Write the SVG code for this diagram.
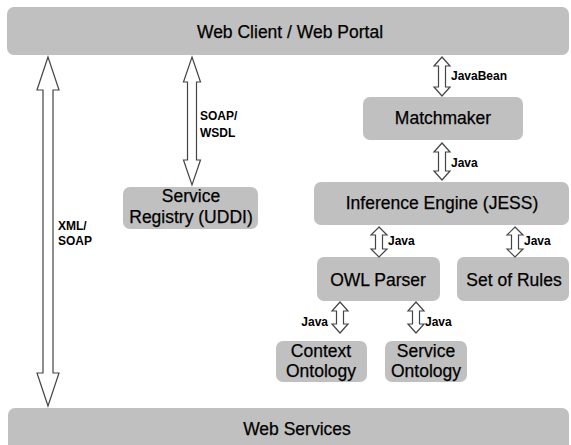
<svg xmlns="http://www.w3.org/2000/svg" width="571" height="445" viewBox="0 0 571 445">
<style>
.box{fill:#c0c0c0;}
.t{font-family:"Liberation Sans",Arial,sans-serif;font-size:17.5px;fill:#000;stroke:#000;stroke-width:0.25;text-anchor:middle;}
.lbl{font-family:"Liberation Sans",Arial,sans-serif;font-size:12px;font-weight:bold;fill:#000;}
.arr{fill:#fff;stroke:#444;stroke-width:1.2;stroke-linejoin:miter;}
</style>
<rect width="571" height="445" fill="#fff"/>
<g id="web-client"><rect class="box" x="7" y="7" width="562" height="48" rx="7"/><text class="t" x="290" y="38">Web Client / Web Portal</text></g>
<g id="web-services"><rect class="box" x="8" y="408" width="561" height="50" rx="7"/><text class="t" x="297" y="435">Web Services</text></g>
<g id="matchmaker"><rect class="box" x="363" y="97" width="160" height="43" rx="7"/><text class="t" x="443" y="124">Matchmaker</text></g>
<g id="inference-engine"><rect class="box" x="314" y="182" width="255" height="43" rx="7"/><text class="t" x="442" y="209">Inference Engine (JESS)</text></g>
<g id="owl-parser"><rect class="box" x="317" y="257" width="123" height="44" rx="7"/><text class="t" x="378" y="286">OWL Parser</text></g>
<g id="set-of-rules"><rect class="box" x="457" y="257" width="112" height="44" rx="7"/><text class="t" x="514" y="286">Set of Rules</text></g>
<g id="context-ontology"><rect class="box" x="276" y="341" width="91" height="41" rx="7"/><text class="t" x="321" y="357">Context</text><text class="t" x="321" y="377">Ontology</text></g>
<g id="service-ontology"><rect class="box" x="385" y="341" width="82" height="41" rx="7"/><text class="t" x="426" y="357">Service</text><text class="t" x="426" y="377">Ontology</text></g>
<g id="service-registry"><rect class="box" x="123" y="187" width="135" height="42" rx="7"/><text class="t" x="191" y="202">Service</text><text class="t" x="191" y="222.5">Registry (UDDI)</text></g>
<g id="connectors">
<path class="arr" d="M48,57 L59,90 L53,90 L53,373 L59,373 L48,406 L37,373 L43,373 L43,90 L37,90 Z"/>
<text class="lbl" x="58" y="230">XML/</text><text class="lbl" x="58" y="245">SOAP</text>
<path class="arr" d="M192,57 L200.5,82 L196.5,82 L196.5,160 L200.5,160 L192,185 L183.5,160 L187.5,160 L187.5,82 L183.5,82 Z"/>
<text class="lbl" x="200" y="120">SOAP/</text><text class="lbl" x="200" y="137">WSDL</text>
<path class="arr" d="M442,57 L450,66 L445.5,66 L445.5,87 L450,87 L442,96 L434,87 L438.5,87 L438.5,66 L434,66 Z"/>
<text class="lbl" x="451" y="80">JavaBean</text>
<path class="arr" d="M442,143 L450,152 L445.5,152 L445.5,171 L450,171 L442,180 L434,171 L438.5,171 L438.5,152 L434,152 Z"/>
<text class="lbl" x="451" y="167">Java</text>
<path class="arr" d="M379,227 L387,235 L382.5,235 L382.5,249 L387,249 L379,257 L371,249 L375.5,249 L375.5,235 L371,235 Z"/>
<text class="lbl" x="388" y="245">Java</text>
<path class="arr" d="M515,227 L523,235 L518.5,235 L518.5,249 L523,249 L515,257 L507,249 L511.5,249 L511.5,235 L507,235 Z"/>
<text class="lbl" x="524" y="245">Java</text>
<path class="arr" d="M340,302 L348,311 L343.5,311 L343.5,324 L348,324 L340,333 L332,324 L336.5,324 L336.5,311 L332,311 Z"/>
<text class="lbl" x="328" y="326" text-anchor="end">Java</text>
<path class="arr" d="M416,302 L424,311 L419.5,311 L419.5,324 L424,324 L416,333 L408,324 L412.5,324 L412.5,311 L408,311 Z"/>
<text class="lbl" x="425" y="326">Java</text>
</g>
</svg>
